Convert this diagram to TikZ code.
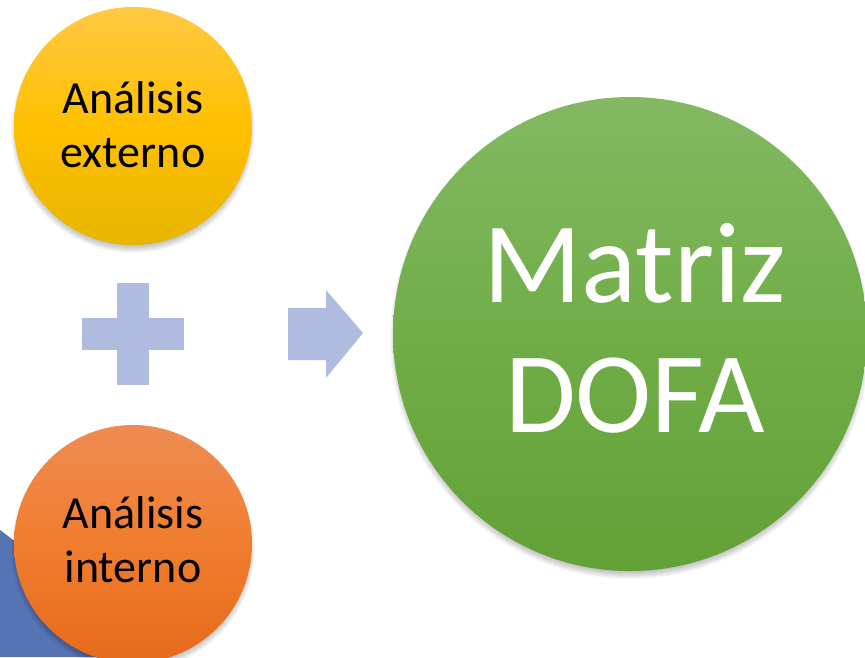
\documentclass[tikz,border=0pt]{standalone}
\usepackage{fontspec}
\setmainfont{Carlito}
\definecolor{ylwT}{HTML}{FFC843}
\definecolor{ylwM}{HTML}{FFC000}
\definecolor{ylwB}{HTML}{E8B500}
\definecolor{orgT}{HTML}{EF8B53}
\definecolor{orgM}{HTML}{F07D2E}
\definecolor{orgB}{HTML}{E76A1B}
\definecolor{grnT}{HTML}{84B963}
\definecolor{grnM}{HTML}{70AD47}
\definecolor{grnB}{HTML}{63A137}
\definecolor{blueT}{HTML}{5673B4}
\definecolor{signC}{HTML}{AFBCDF}
\tikzset{
  smallcirc/.style={circle, draw=none, minimum size=238pt, inner sep=0pt},
  bigcirc/.style={circle, draw=none, minimum size=474pt, inner sep=0pt},
  smalltxt/.style={anchor=base, align=center, font=\fontsize{46}{54}\selectfont, text=black, inner sep=0pt},
  bigtxt/.style={anchor=base, align=center, font=\fontsize{115}{130}\selectfont, text=white, inner sep=0pt},
  signfill/.style={fill=signC, draw=none}
}
\newcommand{\softshadow}[3]{%
  \foreach \k in {0,...,8}{\fill[black, opacity=0.03] (#1,#2+5) circle ({#3+3-\k});}%
}
\begin{document}
\begin{tikzpicture}[x=1pt,y=-1pt]
\useasboundingbox (0,0) rectangle (865,657);
\fill[white] (0,0) rectangle (865,657);
% blue corner
\fill[blueT] (0,530) -- (168,657) -- (0,657) -- cycle;
% shadows
\softshadow{133}{126}{119}
\softshadow{133}{544}{119}
\softshadow{630}{334}{237}
% circles
\node[smallcirc, top color=ylwT, bottom color=ylwB, middle color=ylwM] (ext) at (133,126) {};
\node[smallcirc, top color=orgT, bottom color=orgB, middle color=orgM] (int) at (133,544) {};
\node[bigcirc, top color=grnT, bottom color=grnB, middle color=grnM] (dofa) at (630,334) {};
% texts (anchor = baseline of the last line)
\node[smalltxt] (extlbl) at (133,167) {Análisis\\externo};
\node[smalltxt] (intlbl) at (133,582) {Análisis\\interno};
\node[bigtxt] (dofalbl) at (635,432) {Matriz\\DOFA};
% plus sign
\fill[signfill] (117,283) rectangle (149,385);
\fill[signfill] (82,318) rectangle (184,350);
\coordinate (plus) at (133,334);
% arrow
\fill[signfill] (288,308) -- (326,308) -- (326,290) -- (363,333) -- (326,378) -- (326,360) -- (288,360) -- cycle;
\coordinate (arrow) at (325,334);
\end{tikzpicture}
\end{document}
